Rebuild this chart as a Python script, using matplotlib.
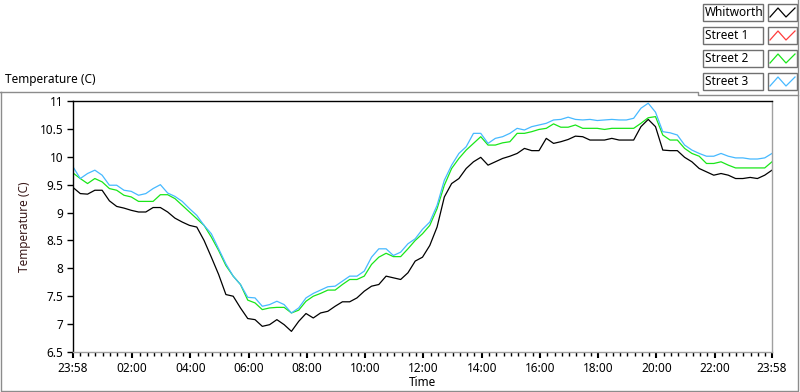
import numpy as np
import matplotlib
matplotlib.use("Agg")
import matplotlib.pyplot as plt
from matplotlib.lines import Line2D
from matplotlib.patches import Rectangle

plt.rcParams['font.family'] = ['Noto Sans', 'DejaVu Sans']

# minutes after 23:58 (15-minute samples)
minutes = np.arange(0, 1441, 15)

whitworth = [9.45, 9.34, 9.33, 9.40, 9.40, 9.21, 9.11, 9.08, 9.04, 9.01, 9.01, 9.09, 9.09,
             9.01, 8.90, 8.83, 8.77, 8.74, 8.50, 8.20, 7.89, 7.53, 7.50, 7.29, 7.10,
             7.08, 6.96, 6.99, 7.08, 6.99, 6.87, 7.05, 7.19, 7.11, 7.20, 7.23, 7.32,
             7.40, 7.40, 7.47, 7.59, 7.68, 7.71, 7.86, 7.83, 7.80, 7.92, 8.13, 8.20,
             8.41, 8.74, 9.28, 9.52, 9.61, 9.79, 9.91, 9.99, 9.85, 9.91, 9.97, 10.01,
             10.06, 10.15, 10.11, 10.11, 10.33, 10.24, 10.27, 10.31, 10.37, 10.36, 10.30, 10.30,
             10.30, 10.33, 10.30, 10.30, 10.30, 10.54, 10.67, 10.54, 10.12, 10.11, 10.11, 9.99,
             9.91, 9.79, 9.73, 9.67, 9.70, 9.67, 9.61, 9.61, 9.63, 9.61, 9.67, 9.76]
street1 = []
street2 = [9.71, 9.61, 9.52, 9.61, 9.55, 9.43, 9.40, 9.31, 9.28, 9.20, 9.20, 9.20, 9.32,
           9.32, 9.25, 9.13, 9.01, 8.89, 8.77, 8.56, 8.32, 8.05, 7.86, 7.71, 7.43,
           7.38, 7.26, 7.29, 7.30, 7.30, 7.20, 7.25, 7.41, 7.50, 7.55, 7.61, 7.61,
           7.71, 7.80, 7.80, 7.86, 8.07, 8.20, 8.27, 8.21, 8.21, 8.35, 8.50, 8.62,
           8.77, 9.07, 9.49, 9.79, 9.97, 10.12, 10.24, 10.36, 10.21, 10.21, 10.25, 10.27,
           10.42, 10.42, 10.45, 10.49, 10.51, 10.59, 10.53, 10.53, 10.57, 10.51, 10.51, 10.51,
           10.49, 10.51, 10.51, 10.51, 10.51, 10.60, 10.70, 10.72, 10.39, 10.30, 10.30, 10.15,
           10.06, 10.01, 9.88, 9.88, 9.91, 9.85, 9.80, 9.80, 9.80, 9.80, 9.80, 9.91]
street3 = [9.82, 9.61, 9.70, 9.76, 9.67, 9.49, 9.49, 9.40, 9.38, 9.31, 9.34, 9.43, 9.50,
           9.35, 9.29, 9.20, 9.07, 8.95, 8.77, 8.62, 8.35, 8.08, 7.86, 7.71, 7.48,
           7.47, 7.32, 7.35, 7.41, 7.35, 7.20, 7.29, 7.47, 7.55, 7.61, 7.67, 7.68,
           7.77, 7.86, 7.86, 7.95, 8.20, 8.35, 8.35, 8.23, 8.29, 8.44, 8.53, 8.70,
           8.83, 9.13, 9.58, 9.85, 10.06, 10.18, 10.42, 10.42, 10.24, 10.33, 10.36, 10.42,
           10.51, 10.48, 10.54, 10.57, 10.60, 10.66, 10.67, 10.71, 10.67, 10.66, 10.67, 10.65,
           10.66, 10.67, 10.66, 10.66, 10.69, 10.87, 10.96, 10.80, 10.45, 10.43, 10.39, 10.21,
           10.12, 10.06, 10.01, 10.01, 10.06, 10.01, 9.98, 9.98, 9.96, 9.96, 9.98, 10.06]

series_names = ['Whitworth', 'Street 1', 'Street 2', 'Street 3']
series_colors = ['#000000', '#ff3c3c', '#19e619', '#46b9ff']
series_data = [whitworth, street1, street2, street3]

xtick_minutes = [0, 122, 242, 362, 482, 602, 722, 842, 962, 1082, 1202, 1322, 1440]
xtick_labels = ['23:58', '02:00', '04:00', '06:00', '08:00', '10:00', '12:00',
                '14:00', '16:00', '18:00', '20:00', '22:00', '23:58']
ytick_values = [6.5, 7, 7.5, 8, 8.5, 9, 9.5, 10, 10.5, 11]
ytick_labels = ['6.5', '7', '7.5', '8', '8.5', '9', '9.5', '10', '10.5', '11']

W, H = 800, 392
fig = plt.figure(figsize=(W / 100, H / 100), dpi=100)
fig.patch.set_facecolor('white')


def fx(x):
    return x / W


def fy(y):
    return 1 - y / H


ax = fig.add_axes([fx(73), fy(352), fx(772) - fx(73), fy(101) - fy(352)])
for name, col, data in zip(series_names, series_colors, series_data):
    if len(data):
        ax.plot(minutes[:len(data)], data, color=col, lw=0.9)
    else:
        ax.plot([], [], color=col, lw=0.9)

ax.set_xlim(0, 1440)
ax.set_ylim(6.5, 11)
ax.set_xticks(xtick_minutes)
ax.set_xticklabels(xtick_labels)
minors = []
for a, b in zip(xtick_minutes[:-1], xtick_minutes[1:]):
    minors.extend(np.linspace(a, b, 9)[1:-1])
ax.set_xticks(minors, minor=True)
ax.set_yticks(ytick_values)
ax.set_yticklabels(ytick_labels)
ax.tick_params(axis='x', which='major', length=4, width=1.5, pad=3, labelsize=8.5, colors='black')
ax.tick_params(axis='x', which='minor', length=3, width=1, colors='black')
ax.tick_params(axis='y', which='major', length=4, width=1, pad=3, labelsize=8.5, colors='black')
ax.spines['left'].set_color('black')
ax.spines['top'].set_color('black')
ax.spines['right'].set_color('#a0a0a0')
ax.spines['bottom'].set_color('#a0a0a0')
for s in ax.spines.values():
    s.set_linewidth(1)
ax.set_xlabel('Time', fontsize=8.5, labelpad=1)
ax.set_ylabel('Temperature (C)', fontsize=8.5, color='#3a1a1a', labelpad=6)

# outer frame
frame_x = [0, 698, 698, 798, 798, 1, 1]
frame_y = [92, 92, 95, 95, 391, 391, 92]
fig.add_artist(Line2D([fx(v) for v in frame_x], [fy(v) for v in frame_y],
                      color='#8c8c8c', lw=1, transform=fig.transFigure))
fig.add_artist(Line2D([fx(798), fx(798)], [fy(0), fy(95)],
                      color='#8c8c8c', lw=1, transform=fig.transFigure))

fig.text(fx(5), fy(80), 'Temperature (C)', fontsize=8.5, va='center', ha='left')

# legend
row_tops = [4, 27, 50, 73]
for name, col, top in zip(series_names, series_colors, row_tops):
    fig.add_artist(Rectangle((fx(703), fy(top + 17)), fx(763) - fx(703), fy(top) - fy(top + 17),
                             transform=fig.transFigure, facecolor='white',
                             edgecolor='#707070', lw=1))
    fig.add_artist(Rectangle((fx(768), fy(top + 17)), fx(797) - fx(768), fy(top) - fy(top + 17),
                             transform=fig.transFigure, facecolor='white',
                             edgecolor='#707070', lw=1))
    zx = [770, 778, 786, 795]
    zy = [top + 13, top + 4, top + 13, top + 4]
    fig.add_artist(Line2D([fx(v) for v in zx], [fy(v) for v in zy], color=col, lw=0.9,
                          transform=fig.transFigure))
    fig.text(fx(705), fy(top + 8.5), name, fontsize=8.5, va='center', ha='left')

fig.savefig('out.png', dpi=100, facecolor='white')
